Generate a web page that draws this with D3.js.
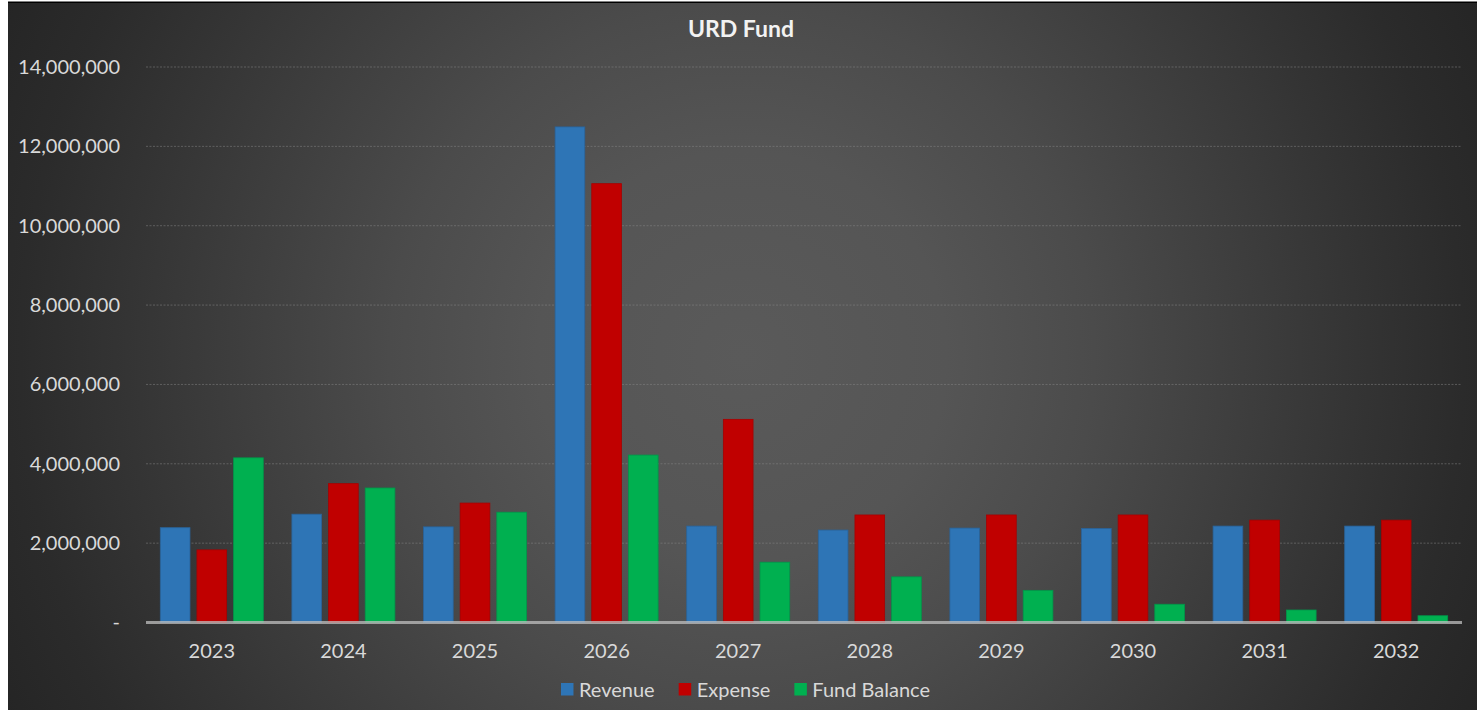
<!DOCTYPE html>
<html>
<head>
<meta charset="utf-8">
<script src="https://cdn.jsdelivr.net/npm/d3@7"></script>
<style>
  html, body { margin: 0; padding: 0; background: #fff; }
  svg { display: block; font-family: Lato, "Open Sans", sans-serif; }
</style>
</head>
<body>
<div id="chart"></div>
<script>
const years = ["2023", "2024", "2025", "2026", "2027", "2028", "2029", "2030", "2031", "2032"];
const seriesNames = ["Revenue", "Expense", "Fund Balance"];
const revenue = [2390000, 2730000, 2410000, 12490000, 2430000, 2330000, 2380000, 2370000, 2430000, 2430000];
const expense = [1830000, 3500000, 3010000, 11060000, 5120000, 2710000, 2710000, 2710000, 2580000, 2580000];
const fundBalance = [4150000, 3390000, 2780000, 4220000, 1520000, 1150000, 810000, 460000, 315000, 170000];
const yTicks = [0, 2000000, 4000000, 6000000, 8000000, 10000000, 12000000, 14000000];
const colors = ["#2E75B6", "#C00000", "#00B050"];
const strokes = ["#2a6399", "#a80000", "#00964a"];

const W = 1479, H = 710;
const frame = {x: 8, y: 3, w: 1469, h: 707};
const plot = {left: 146, right: 1462, top: 67, bottom: 622.5};
const font = "Lato, 'Open Sans', sans-serif";

const rows = years.map((y, i) => ({year: y, values: [revenue[i], expense[i], fundBalance[i]]}));

const svg = d3.select("#chart").append("svg")
    .attr("width", W)
    .attr("height", H);

// background, radial from the middle of the chart area
const defs = svg.append("defs");
const grad = defs.append("radialGradient")
    .attr("id", "bg")
    .attr("gradientUnits", "userSpaceOnUse")
    .attr("cx", 742).attr("cy", 356).attr("r", 820);
[[0, "#5a5a5a"], [0.25, "#555555"], [0.43, "#4b4b4b"], [0.75, "#343434"], [0.88, "#2b2b2b"], [1, "#252525"]]
    .forEach(([o, c]) => grad.append("stop").attr("offset", o).attr("stop-color", c));

svg.append("rect")
    .attr("x", frame.x).attr("y", frame.y)
    .attr("width", frame.w).attr("height", frame.h)
    .attr("fill", "url(#bg)");
svg.append("rect")
    .attr("x", frame.x).attr("y", 1.5)
    .attr("width", frame.w).attr("height", 1.5)
    .attr("fill", "#000");

const x0 = d3.scaleBand().domain(years).range([plot.left, plot.right]);
const x1 = d3.scaleBand().domain([0, 1, 2])
    .range([0, x0.bandwidth()])
    .paddingInner(0.19)
    .paddingOuter(0.39);
const y = d3.scaleLinear().domain([0, 14000000]).range([plot.bottom, plot.top]);

// gridlines
svg.append("g")
    .attr("class", "grid")
    .selectAll("line")
    .data(yTicks.slice(1))
    .join("line")
    .attr("x1", plot.left).attr("x2", plot.right)
    .attr("y1", d => y(d)).attr("y2", d => y(d))
    .attr("stroke", "#8a8a8a")
    .attr("stroke-opacity", 0.5)
    .attr("stroke-width", 1)
    .attr("stroke-dasharray", "2,1.5");

// y axis
const yAxisG = svg.append("g")
    .attr("transform", `translate(${plot.left},0)`)
    .call(d3.axisLeft(y).tickValues(yTicks).tickSize(0).tickPadding(26)
        .tickFormat(d => d === 0 ? "-" : d3.format(",")(d)));
yAxisG.select(".domain").remove();
yAxisG.attr("font-family", font).attr("font-size", 20);
yAxisG.selectAll("text").attr("fill", "#d9d9d9");

// bars
const groups = svg.append("g")
    .selectAll(".yearG")
    .data(rows)
    .join("g")
    .attr("class", "yearG")
    .attr("transform", d => `translate(${x0(d.year)},0)`);

groups.selectAll("rect")
    .data(d => d.values.map((v, i) => ({i, v})))
    .join("rect")
    .attr("x", d => x1(d.i))
    .attr("width", x1.bandwidth())
    .attr("y", d => y(d.v))
    .attr("height", d => y(0) - y(d.v))
    .attr("fill", d => colors[d.i])
    .attr("stroke", d => strokes[d.i])
    .attr("stroke-width", 0.8);

// x axis baseline
svg.append("line")
    .attr("x1", plot.left).attr("x2", plot.right)
    .attr("y1", y(0)).attr("y2", y(0))
    .attr("stroke", "#bfbfbf")
    .attr("stroke-opacity", 0.75)
    .attr("stroke-width", 3);

const xAxisG = svg.append("g")
    .attr("transform", `translate(0,${y(0)})`)
    .call(d3.axisBottom(x0).tickSize(0).tickPadding(21));
xAxisG.select(".domain").remove();
xAxisG.attr("font-family", font).attr("font-size", 20);
xAxisG.selectAll("text").attr("fill", "#d9d9d9");

// title
svg.append("text")
    .attr("x", 741)
    .attr("y", 37)
    .attr("text-anchor", "middle")
    .attr("fill", "#f2f2f2")
    .attr("font-size", "23px")
    .attr("font-weight", "bold")
    .text("URD Fund");

// legend
const legend = svg.append("g").attr("class", "legend");
let lx = 0;
seriesNames.forEach((name, i) => {
    const g = legend.append("g").attr("transform", `translate(${lx},0)`);
    g.append("rect")
        .attr("x", 0).attr("y", -6.5)
        .attr("width", 12.5).attr("height", 12.5)
        .attr("fill", colors[i]);
    const t = g.append("text")
        .attr("x", 18).attr("y", 0)
        .attr("dy", "0.35em")
        .attr("fill", "#d9d9d9")
        .attr("font-size", "20px")
        .text(name);
    lx += 18 + t.node().getComputedTextLength() + 24;
});
lx -= 24;
legend.attr("transform", `translate(${745.5 - lx / 2},689.5)`);
</script>
</body>
</html>
